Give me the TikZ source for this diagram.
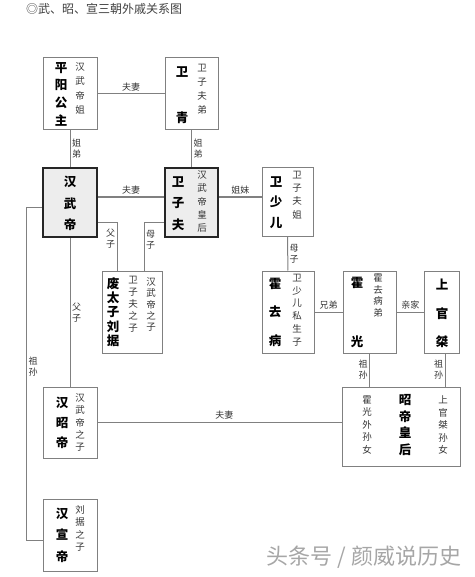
\documentclass[tikz,border=0pt]{standalone}
\usepackage{fontspec}
\newfontfamily\cjk{Noto Sans CJK SC}
\usetikzlibrary{positioning,calc}

\begin{document}
\begin{tikzpicture}[
  x=1pt, y=-1pt,
  box/.style={draw=black!50, line width=1pt, inner sep=0pt},
  mainbox/.style={draw=black!85, line width=2.6pt, fill=black!7, inner sep=0pt},
  link/.style={draw=black!50, line width=1pt},
  namecol/.style={font={\cjk\bfseries\fontsize{12.5}{#1}\selectfont}, align=center, inner sep=0pt},
  notecol/.style={font={\cjk\fontsize{9.5}{#1}\selectfont}, align=center, inner sep=0pt, text=black!80},
  rel/.style={font={\cjk\fontsize{9}{11}\selectfont}, align=center, inner sep=1.5pt, text=black!80}
]
  \useasboundingbox (0,0) rectangle (474,577);

  \node[font={\cjk\fontsize{12}{14}\selectfont}, text=black!75, anchor=west, inner sep=0pt] (title) at (26,9) {◎武、昭、宣三朝外戚关系图};

  % boxes
  \node[box, minimum width=54pt, minimum height=72pt] (pingyang) at (70,94) {};
  \node[box, minimum width=53pt, minimum height=72pt] (weiqing) at (191.5,94) {};
  \node[mainbox, minimum width=54pt, minimum height=69pt] (wudi) at (70,202.5) {};
  \node[mainbox, minimum width=53pt, minimum height=69pt] (weizifu) at (191.5,202.5) {};
  \node[box, minimum width=51pt, minimum height=68pt] (shaoer) at (287.5,202) {};
  \node[box, minimum width=60pt, minimum height=82pt] (liuju) at (132,312) {};
  \node[box, minimum width=52pt, minimum height=82pt] (huoqubing) at (288,312) {};
  \node[box, minimum width=53pt, minimum height=82pt] (huoguang) at (369.5,312) {};
  \node[box, minimum width=35pt, minimum height=82pt] (shangguan) at (442,312) {};
  \node[box, minimum width=118pt, minimum height=79pt] (empress) at (401,426.5) {};
  \node[box, minimum width=54pt, minimum height=71pt] (zhaodi) at (70,422.5) {};
  \node[box, minimum width=54pt, minimum height=72pt] (xuandi) at (70,535) {};

  % names and notes
  \node[namecol=17.7] (pingyang-name) at ([xshift=-9pt]pingyang.center) {平\\阳\\公\\主};
  \node[notecol=14.3] (pingyang-note) at ([xshift=10pt,yshift=5.5pt]pingyang.center) {汉\\武\\帝\\姐};
  \node[namecol=46] (weiqing-name) at ([xshift=-9.5pt,yshift=-1pt]weiqing.center) {卫\\青};
  \node[notecol=14] (weiqing-note) at ([xshift=10.5pt,yshift=5pt]weiqing.center) {卫\\子\\夫\\弟};
  \node[namecol=21.5] (wudi-name) at ([yshift=-1pt]wudi.center) {汉\\武\\帝};
  \node[namecol=21.5] (weizifu-name) at ([xshift=-13.5pt,yshift=-1pt]weizifu.center) {卫\\子\\夫};
  \node[notecol=13.25] (weizifu-note) at ([xshift=10.5pt,yshift=1pt]weizifu.center) {汉\\武\\帝\\皇\\后};
  \node[namecol=20.5] (shaoer-name) at ([xshift=-11.5pt,yshift=-0.5pt]shaoer.center) {卫\\少\\儿};
  \node[notecol=13.3] (shaoer-note) at ([xshift=9.5pt,yshift=7pt]shaoer.center) {卫\\子\\夫\\姐};
  \node[namecol=14.25] (liuju-name) at ([xshift=-19pt]liuju.center) {废\\太\\子\\刘\\据};
  \node[notecol=12] (liuju-mother) at ([xshift=1pt,yshift=8pt]liuju.center) {卫\\子\\夫\\之\\子};
  \node[notecol=11.25] (liuju-father) at ([xshift=19pt,yshift=7.5pt]liuju.center) {汉\\武\\帝\\之\\子};
  \node[namecol=28.5] (huoqubing-name) at ([xshift=-13pt]huoqubing.center) {霍\\去\\病};
  \node[notecol=12.8] (huoqubing-note) at ([xshift=9pt,yshift=2pt]huoqubing.center) {卫\\少\\儿\\私\\生\\子};
  \node[namecol=59] (huoguang-name) at ([xshift=-12.5pt,yshift=-0.5pt]huoguang.center) {霍\\光};
  \node[notecol=11.7] (huoguang-note) at ([xshift=8.5pt,yshift=16.5pt]huoguang.center) {霍\\去\\病\\弟};
  \node[namecol=28.5] (shangguan-name) at ([yshift=-1.5pt]shangguan.center) {上\\官\\桀};
  \node[notecol=12.5] (empress-huo) at ([xshift=-34pt,yshift=1.5pt]empress.center) {霍\\光\\外\\孙\\女};
  \node[namecol=16.7] (empress-name) at ([xshift=4pt,yshift=1.5pt]empress.center) {昭\\帝\\皇\\后};
  \node[notecol=12.5] (empress-shangguan) at ([xshift=42pt,yshift=1.5pt]empress.center) {上\\官\\桀\\孙\\女};
  \node[namecol=20] (zhaodi-name) at ([xshift=-8pt]zhaodi.center) {汉\\昭\\帝};
  \node[notecol=12.25] (zhaodi-note) at ([xshift=10pt]zhaodi.center) {汉\\武\\帝\\之\\子};
  \node[namecol=21.5] (xuandi-name) at ([xshift=-8pt]xuandi.center) {汉\\宣\\帝};
  \node[notecol=12.3] (xuandi-note) at ([xshift=10pt,yshift=6.5pt]xuandi.center) {刘\\据\\之\\子};

  % relations
  \draw[link] (pingyang) -- node[rel, above=1pt] {夫妻} (weiqing);
  \draw[link] (pingyang) -- node[rel, right] {姐\\弟} (wudi);
  \draw[link] (weiqing) -- node[rel, right] {姐\\弟} (weizifu);
  \draw[link] ([yshift=5.5pt]wudi.east) -- node[rel, above=1pt] {夫妻} ([yshift=5.5pt]weizifu.west);
  \draw[link] ([yshift=5.5pt]weizifu.east) -- node[rel, above=1pt] {姐妹} ([yshift=5pt]shaoer.west);
  \draw[link] ([yshift=-19.5pt]wudi.east) -| node[rel, left, pos=0.675] {父\\子} ([xshift=-15pt]liuju.north);
  \draw[link] ([yshift=-19.5pt]weizifu.west) -| node[rel, right, pos=0.68] {母\\子} ([xshift=12pt]liuju.north);
  \draw[link] (wudi) -- node[rel, right] {父\\子} (zhaodi);
  \draw[link] ([yshift=-4.5pt]wudi.west) -- ++(-15,0) |- node[rel, right, pos=0.24] {祖\\孙} ([yshift=-5pt]xuandi.west);
  \draw[link] (shaoer) -- node[rel, right] {母\\子} (huoqubing);
  \draw[link] (huoqubing) -- node[rel, above=1pt] {兄弟} (huoguang);
  \draw[link] (huoguang) -- node[rel, above=1pt] {亲家} (shangguan);
  \draw[link] (huoguang.south) -- node[rel, left] {祖\\孙} (huoguang.south |- empress.north);
  \draw[link] ([xshift=3pt]shangguan.south) -- node[rel, left] {祖\\孙} ([xshift=3pt]shangguan.south |- empress.north);
  \draw[link] (zhaodi.east) -- node[rel, above=1pt, pos=0.52] {夫妻} (zhaodi.east -| empress.west);

  \node[font={\cjk\fontsize{22}{25}\selectfont}, text=black!35, inner sep=0pt] (mark) at (364,557) {头条号\ /\ 颜威说历史};
\end{tikzpicture}
\end{document}
